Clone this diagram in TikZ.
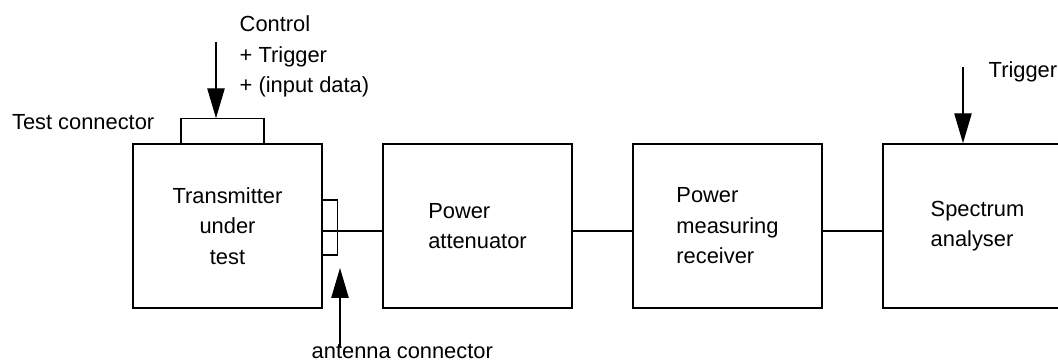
\documentclass[tikz,border=0pt]{standalone}
\usepackage{fontspec}
\setmainfont{Liberation Sans}
\usetikzlibrary{positioning,arrows.meta}

\begin{document}
\begin{tikzpicture}[x=0.75pt,y=-0.75pt,line width=1.1pt,
  font=\fontsize{16.4}{22.9}\selectfont,
  unit/.style={draw,minimum width=141.75pt,minimum height=123pt,inner sep=0pt},
  plug/.style={draw,inner sep=0pt,outer sep=0pt},
  note/.style={inner sep=0pt},
  feed/.style={-{Triangle[length=22.5pt,width=13pt]}}]
\useasboundingbox (0,0) rectangle (1058,363);

% chain of units
\node[unit,align=center] (tx) at (227.5,226) {Transmitter\\under\\test};
\node[unit,align=left,right=44.65pt of tx] (att) {Power\\attenuator};
\node[unit,align=left,right=44.65pt of att] (pmr) {Power\\measuring\\receiver};
\node[unit,align=left,right=44.65pt of pmr] (sa) {Spectrum\\analyser};

% connectors on the transmitter
\node[plug,minimum width=62.25pt,minimum height=18.75pt,anchor=south] (tc) at ([xshift=-3.75pt]tx.north) {};
\node[plug,minimum width=11.25pt,minimum height=41.25pt,anchor=west] (ac) at ([yshift=-1.1pt]tx.east) {};

% wires
\draw ([yshift=-3.75pt]tx.east) -- ([yshift=-3.75pt]att.west);
\draw ([yshift=-3.75pt]att.east) -- ([yshift=-3.75pt]pmr.west);
\draw ([yshift=-3.75pt]pmr.east) -- ([yshift=-3.75pt]sa.west);

% inputs
\coordinate (ctrlin) at (216,42);
\draw[feed] (ctrlin) -- (ctrlin |- tc.north);
\coordinate (trigin) at (963,67);
\draw[feed] (trigin) -- (trigin |- sa.north);
\coordinate (antin) at (340,348);
\draw[feed] (antin) -- ([yshift=-9.75pt]antin |- ac.south);

% labels
\node[note,align=left,anchor=north west] (ctrl) at (239,15) {Control\\+ Trigger\\+ (input data)};
\node[note,anchor=base east] (tclbl) at (155,130) {Test connector};
\node[note,anchor=base west] (trig) at (988,78) {Trigger};
\node[note,anchor=base west] (antlbl) at (311,359) {antenna connector};
\end{tikzpicture}
\end{document}
